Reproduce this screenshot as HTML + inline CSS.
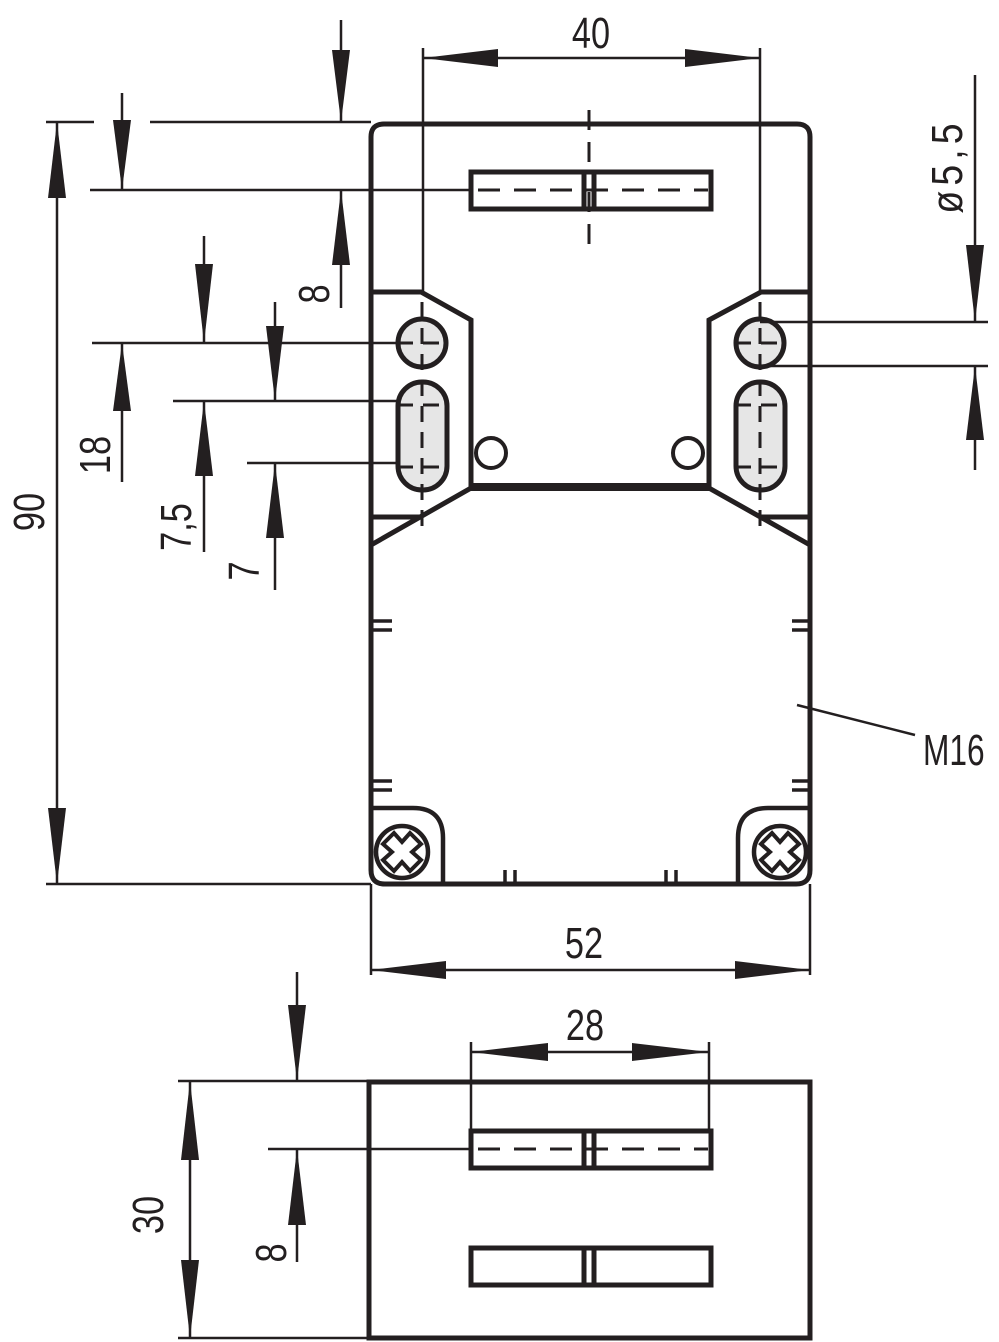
<!DOCTYPE html>
<html><head><meta charset="utf-8"><style>
html,body{margin:0;padding:0;background:#fff;}
svg{display:block;}
text{font-family:"Liberation Sans Narrow","Liberation Sans",sans-serif;fill:#231f20;font-size:44px;}
</style></head><body>
<svg width="999" height="1342" viewBox="0 0 999 1342" xmlns="http://www.w3.org/2000/svg">
<g stroke="#231f20" fill="none" stroke-linecap="butt">
<g stroke-width="5">
<path d="M371,292 L371,137 Q371,124 384,124 L797,124 Q810,124 810,137 L810,292"/>
<path d="M371,292 L371,870 Q371,884 385,884 L796,884 Q810,884 810,870 L810,292"/>
<path d="M371,292 L421,292 L471,320 L471,488 L371,545"/>
<path d="M810,292 L761,292 L709,320 L709,488 L810,545"/>
<path d="M371,517 L421,517 M810,517 L761,517"/>
</g>
<path d="M471,487 L709,487" stroke-width="8"/>
<g stroke-width="3.5">
<path d="M373,621 H392 M373,630 H392 M373,781 H392 M373,790 H392"/>
<path d="M792,621 H809 M792,630 H809 M792,781 H809 M792,790 H809"/>
<path d="M505,870 V884 M515,870 V884 M666,870 V884 M676,870 V884"/>
</g>
<g stroke-width="5" fill="#e6e6e6">
<circle cx="422" cy="343" r="24"/>
<circle cx="760" cy="343" r="24"/>
<rect x="398" y="382" width="49" height="108" rx="24"/>
<rect x="736" y="382" width="49" height="108" rx="24"/>
</g>
<g stroke-width="4">
<circle cx="491" cy="453" r="15"/>
<circle cx="688" cy="453" r="15"/>
</g>
<g stroke-width="3" stroke-dasharray="16,10">
<path d="M422,302 V530 M397,343 H448 M397,405 H448 M397,467 H448"/>
<path d="M760,302 V530 M735,343 H786 M735,405 H786 M735,467 H786"/>
</g>
<g stroke-width="5">
<rect x="471" y="172" width="240" height="37"/>
<path d="M584,172 V209 M594,172 V209"/>
</g>
<path d="M478,190 H708" stroke-width="3" stroke-dasharray="22,14"/>
<path d="M589,110 V258" stroke-width="3" stroke-dasharray="20,12,20,30"/>
<g stroke-width="4.5">
<path d="M371,808 H413 Q443,808 443,838 V884"/>
<path d="M810,808 H768 Q738,808 738,838 V884"/>
<circle cx="402" cy="852" r="26"/>
<circle cx="780" cy="852" r="26"/>
<path d="M402,842 L410,833 L421,844 L412,852 L421,860 L410,871 L402,862 L394,871 L383,860 L392,852 L383,844 L394,833 Z" stroke-width="4"/>
<path d="M780,842 L788,833 L799,844 L790,852 L799,860 L788,871 L780,862 L772,871 L761,860 L770,852 L761,844 L772,833 Z" stroke-width="4"/>
</g>
<g stroke-width="5">
<rect x="369" y="1082" width="441" height="256"/>
<rect x="471" y="1131" width="240" height="37"/>
<path d="M584,1131 V1168 M594,1131 V1168"/>
<rect x="471" y="1248" width="240" height="37"/>
<path d="M584,1248 V1285 M594,1248 V1285"/>
</g>
<path d="M478,1149 H708" stroke-width="3" stroke-dasharray="22,14"/>
<g stroke-width="2.5">
<path d="M423,48 V292 M760,48 V292 M423,58 H760"/>
<path d="M46,122 H94 M150,122 H371 M46,884 H371 M57,122 V884"/>
<path d="M122,93 V190 M122,343 V482 M90,190 H470 M92,343 H400"/>
<path d="M341,20 V122 M341,190 V308"/>
<path d="M204,236 V343 M204,401 V552 M173,401 H400"/>
<path d="M275,302 V401 M275,463 V590 M247,463 H400"/>
<path d="M975,75 V322 M975,366 V470 M760,322 H988 M760,366 H988"/>
<path d="M797,705 L915,735"/>
<path d="M371,884 V975 M810,884 V975 M371,970 H810"/>
<path d="M471,1042 V1131 M709,1042 V1131 M471,1052 H709"/>
<path d="M178,1081 H369 M178,1338 H369 M190,1081 V1338"/>
<path d="M297,972 V1081 M297,1149 V1262 M268,1149 H471"/>
</g>
</g>
<g fill="#231f20">
<polygon points="423,58 498,49 498,67"/><polygon points="760,58 685,49 685,67"/>
<polygon points="371,970 446,961 446,979"/><polygon points="810,970 735,961 735,979"/>
<polygon points="471,1052 548,1043 548,1061"/><polygon points="709,1052 632,1043 632,1061"/>
<polygon points="57,122 48,198 66,198"/><polygon points="57,884 48,808 66,808"/>
<polygon points="122,190 113,120 131,120"/><polygon points="122,343 113,411 131,411"/>
<polygon points="341,122 332,50 350,50"/><polygon points="341,190 332,265 350,265"/>
<polygon points="204,343 195,264 213,264"/><polygon points="204,401 195,476 213,476"/>
<polygon points="275,401 266,326 284,326"/><polygon points="275,463 266,538 284,538"/>
<polygon points="975,322 966,245 984,245"/><polygon points="975,366 966,440 984,440"/>
<polygon points="297,1081 288,1005 306,1005"/><polygon points="297,1149 288,1225 306,1225"/>
<polygon points="190,1081 181,1160 199,1160"/><polygon points="190,1338 181,1260 199,1260"/>
</g>
<text transform="translate(591,48) scale(0.78,1)" text-anchor="middle">40</text>
<text transform="translate(584,958) scale(0.78,1)" text-anchor="middle">52</text>
<text transform="translate(585,1040) scale(0.78,1)" text-anchor="middle">28</text>
<text transform="translate(923,765) scale(0.72,1)">M16</text>
<text transform="translate(44,512) rotate(-90) scale(0.78,1)" text-anchor="middle">90</text>
<text transform="translate(110,455) rotate(-90) scale(0.78,1)" text-anchor="middle">18</text>
<text transform="translate(329,294) rotate(-90) scale(0.78,1)" text-anchor="middle">8</text>
<text transform="translate(191,527) rotate(-90) scale(0.78,1)" text-anchor="middle">7,5</text>
<text transform="translate(259,571) rotate(-90) scale(0.78,1)" text-anchor="middle">7</text>
<text transform="translate(962,166) rotate(-90) scale(0.85,1)" text-anchor="middle" letter-spacing="6">ø5,5</text>
<text transform="translate(163,1215) rotate(-90) scale(0.78,1)" text-anchor="middle">30</text>
<text transform="translate(286,1253) rotate(-90) scale(0.78,1)" text-anchor="middle">8</text>
</svg>
</body></html>
